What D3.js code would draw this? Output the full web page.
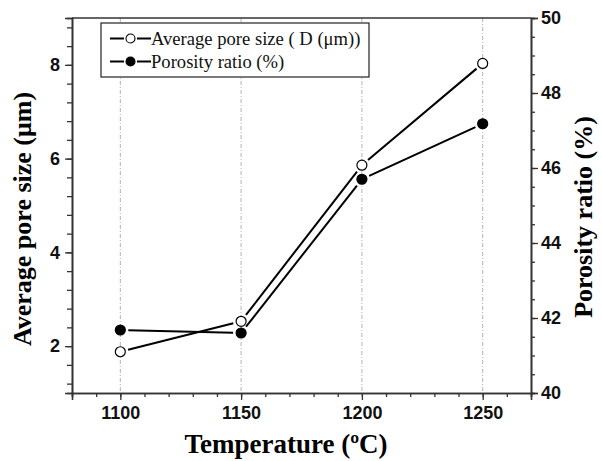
<!DOCTYPE html>
<html>
<head>
<meta charset="utf-8">
<script src="https://cdn.jsdelivr.net/npm/d3@7"></script>
<style>
  body { margin: 0; background: #fff; }
  svg { display: block; }
  .serif { font-family: "Liberation Serif", "Times New Roman", serif; }
  .sans { font-family: "Liberation Sans", Arial, sans-serif; }
</style>
</head>
<body>
<div class="chart"></div>
<script>
// data
var temps = [1100, 1150, 1200, 1250];
var poreSize = [1.88, 2.53, 5.86, 8.03];      // µm, left axis
var porosity = [41.68, 41.6, 45.7, 47.18];    // %, right axis

var xTicks = [1100, 1150, 1200, 1250];
var leftTicks = [2, 4, 6, 8];
var rightTicks = [40, 42, 44, 46, 48, 50];

var W = 602, H = 461;
var m = { left: 72, right: 531, top: 18, bottom: 393 };

var svg = d3.select(".chart").append("svg")
    .attr("width", W)
    .attr("height", H);

var x = d3.scaleLinear().domain([1080, 1270]).range([m.left, m.right]);
var yL = d3.scaleLinear().domain([1, 9]).range([m.bottom, m.top]);
var yR = d3.scaleLinear().domain([40, 50]).range([m.bottom, m.top]);

// vertical dashed grid at major temperatures
svg.append("g").selectAll("line")
    .data(xTicks)
    .join("line")
    .attr("x1", d => x(d)).attr("x2", d => x(d))
    .attr("y1", m.top).attr("y2", m.bottom)
    .attr("stroke", "#aaa")
    .attr("stroke-width", 0.9)
    .attr("stroke-dasharray", "4,2,1,2");

var axisColor = "#333";
function styleAxis(g) {
    g.select(".domain").attr("stroke", axisColor).attr("stroke-width", 1.6);
    g.selectAll(".tick line").attr("stroke", axisColor).attr("stroke-width", 1.3);
    g.selectAll("text")
        .attr("class", "sans")
        .attr("font-family", null)
        .attr("font-weight", "bold")
        .attr("font-size", 18)
        .attr("fill", "#111");
}

// minor + major ticks
svg.append("g")
    .attr("transform", "translate(0," + m.bottom + ")")
    .call(d3.axisBottom(x).tickValues(d3.range(1080, 1271, 10)).tickSize(4).tickFormat(""))
    .call(styleAxis);
svg.append("g")
    .attr("transform", "translate(0," + m.bottom + ")")
    .call(d3.axisBottom(x).tickValues(xTicks).tickSize(7).tickPadding(6).tickFormat(d3.format("d")))
    .call(styleAxis);

svg.append("g")
    .attr("transform", "translate(" + m.left + ",0)")
    .call(d3.axisLeft(yL).tickValues(d3.range(1.2, 9, 0.4)).tickSize(5).tickFormat(""))
    .call(styleAxis);
svg.append("g")
    .attr("transform", "translate(" + m.left + ",0)")
    .call(d3.axisLeft(yL).tickValues(leftTicks).tickSize(7).tickPadding(5))
    .call(styleAxis);

svg.append("g")
    .attr("transform", "translate(" + m.right + ",0)")
    .call(d3.axisRight(yR).tickValues(d3.range(40, 50.01, 0.5)).tickSize(4).tickFormat(""))
    .call(styleAxis);
svg.append("g")
    .attr("transform", "translate(" + m.right + ",0)")
    .call(d3.axisRight(yR).tickValues(rightTicks).tickSize(7).tickPadding(3))
    .call(styleAxis);

// top frame line
svg.append("line")
    .attr("x1", m.left).attr("x2", m.right)
    .attr("y1", m.top).attr("y2", m.top)
    .attr("stroke", axisColor).attr("stroke-width", 1.6);

// series: lines with gaps around markers
var R = 5, gap = 8;
function drawSeries(vals, yScale, filled) {
    var pts = temps.map((t, i) => [x(t), yScale(vals[i])]);
    var segs = d3.pairs(pts).map(([a, b]) => {
        var dx = b[0] - a[0], dy = b[1] - a[1], len = Math.hypot(dx, dy);
        var ux = dx / len, uy = dy / len;
        return [a[0] + ux * gap, a[1] + uy * gap, b[0] - ux * gap, b[1] - uy * gap];
    });
    svg.append("g").selectAll("line")
        .data(segs)
        .join("line")
        .attr("x1", d => d[0]).attr("y1", d => d[1])
        .attr("x2", d => d[2]).attr("y2", d => d[3])
        .attr("stroke", "#000")
        .attr("stroke-width", 2);
    svg.append("g").selectAll("circle")
        .data(pts)
        .join("circle")
        .attr("cx", d => d[0]).attr("cy", d => d[1])
        .attr("r", R)
        .attr("fill", filled ? "#000" : "#fff")
        .attr("stroke", "#000")
        .attr("stroke-width", 1.2);
}
drawSeries(poreSize, yL, false);
drawSeries(porosity, yR, true);

// legend
var legend = svg.append("g");
legend.append("rect")
    .attr("x", 101).attr("y", 23)
    .attr("width", 268).attr("height", 54)
    .attr("fill", "#fff")
    .attr("stroke", "#222")
    .attr("stroke-width", 1.2);

var legendItems = [
    { label: "Average pore size ( D (\u03bcm))", filled: false },
    { label: "Porosity ratio (%)", filled: true }
];
var rows = legend.selectAll("g.row")
    .data(legendItems)
    .join("g")
    .attr("class", "row")
    .attr("transform", (d, i) => "translate(0," + (38.5 + i * 23) + ")");
rows.append("line")
    .attr("x1", 110).attr("x2", 124)
    .attr("stroke", "#000").attr("stroke-width", 2);
rows.append("line")
    .attr("x1", 137).attr("x2", 151)
    .attr("stroke", "#000").attr("stroke-width", 2);
rows.append("circle")
    .attr("cx", 130.5).attr("r", 4.5)
    .attr("fill", d => d.filled ? "#000" : "#fff")
    .attr("stroke", "#000").attr("stroke-width", 1.1);
rows.append("text")
    .attr("class", "serif")
    .attr("x", 151)
    .attr("y", 6)
    .attr("font-size", 18.6)
    .attr("fill", "#111")
    .text(d => d.label);

// axis titles
svg.append("text")
    .attr("class", "serif")
    .attr("transform", "translate(31,219) rotate(-90)")
    .attr("text-anchor", "middle")
    .attr("font-weight", "bold")
    .attr("font-size", 26)
    .text("Average pore size (\u03bcm)");

svg.append("text")
    .attr("class", "serif")
    .attr("transform", "translate(592,217) rotate(-90)")
    .attr("text-anchor", "middle")
    .attr("font-weight", "bold")
    .attr("font-size", 26)
    .text("Porosity ratio (%)");

svg.append("text")
    .attr("class", "serif")
    .attr("x", 286)
    .attr("y", 453)
    .attr("text-anchor", "middle")
    .attr("font-weight", "bold")
    .attr("font-size", 27)
    .text("Temperature (\u00baC)");
</script>
</body>
</html>
